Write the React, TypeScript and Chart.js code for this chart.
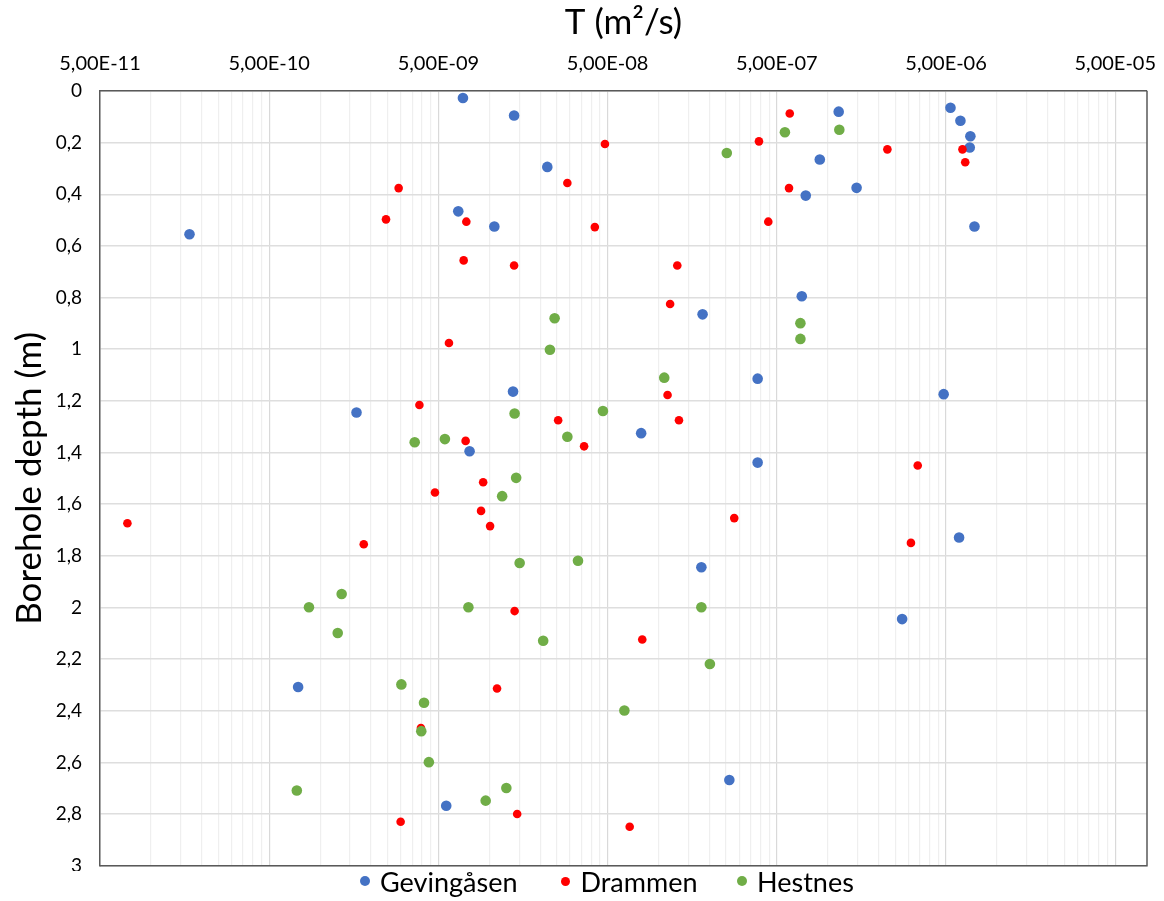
import React, { useEffect, useRef } from 'react';
import { Chart, registerables } from 'chart.js';

Chart.register(...registerables);

// ---- Data ----
const seriesNames = ['Gevingåsen', 'Drammen', 'Hestnes'];
const seriesColors = ['#4472C4', '#FF0000', '#70AD47'];

const gevingasenT = [
  6.98e-9, 1.40e-8, 1.16e-6, 5.31e-6, 6.08e-6, 6.96e-6, 6.90e-6, 8.97e-7, 2.20e-8, 1.48e-6,
  7.41e-7, 6.55e-9, 1.07e-8, 1.69e-10, 7.36e-6, 7.02e-7, 1.82e-7, 3.85e-7, 1.38e-8, 4.84e-6,
  1.64e-9, 7.89e-8, 7.64e-9, 3.85e-7, 5.97e-6, 1.79e-7, 2.75e-6, 7.41e-10, 2.62e-7, 5.56e-9,
];
const gevingasenDepth = [
  0.027, 0.095, 0.080, 0.065, 0.115, 0.175, 0.219, 0.265, 0.294, 0.375,
  0.405, 0.466, 0.525, 0.555, 0.525, 0.795, 0.865, 1.114, 1.164, 1.174,
  1.245, 1.325, 1.395, 1.439, 1.729, 1.844, 2.045, 2.308, 2.668, 2.768,
];

const drammenT = [
  5.96e-7, 4.82e-8, 3.92e-7, 2.25e-6, 6.25e-6, 6.49e-6, 2.89e-8, 2.91e-9, 5.90e-7, 2.45e-9,
  7.31e-9, 4.20e-8, 4.45e-7, 7.05e-9, 1.40e-8, 1.29e-7, 1.17e-7, 5.77e-9, 1.13e-7, 3.86e-9,
  2.55e-8, 1.32e-7, 7.24e-9, 3.63e-8, 3.40e-6, 9.19e-9, 4.77e-9, 8.93e-9, 1.01e-8, 7.26e-11,
  2.80e-7, 1.81e-9, 3.10e-6, 1.41e-8, 8.01e-8, 1.11e-8, 3.94e-9, 1.46e-8, 2.99e-9, 6.75e-8,
];
const drammenDepth = [
  0.087, 0.205, 0.195, 0.226, 0.226, 0.276, 0.356, 0.376, 0.376, 0.497,
  0.506, 0.527, 0.506, 0.656, 0.676, 0.676, 0.825, 0.976, 1.177, 1.216,
  1.275, 1.275, 1.355, 1.376, 1.450, 1.515, 1.555, 1.626, 1.685, 1.674,
  1.654, 1.755, 1.750, 2.014, 2.124, 2.314, 2.467, 2.800, 2.830, 2.849,
];

const hestnesT = [
  5.58e-7, 1.17e-6, 2.53e-7, 2.43e-8, 6.89e-7, 6.89e-7, 2.28e-8, 1.08e-7, 1.41e-8, 4.69e-8,
  3.62e-9, 5.46e-9, 2.89e-8, 1.44e-8, 1.19e-8, 1.51e-8, 3.34e-8, 1.34e-9, 8.59e-10, 7.52e-9,
  1.79e-7, 1.27e-9, 2.08e-8, 2.01e-7, 3.02e-9, 4.11e-9, 6.28e-8, 3.96e-9, 4.39e-9, 7.28e-10,
  1.26e-8, 9.51e-9,
];
const hestnesDepth = [
  0.160, 0.150, 0.240, 0.880, 0.899, 0.960, 1.002, 1.110, 1.249, 1.239,
  1.360, 1.348, 1.339, 1.498, 1.569, 1.828, 1.819, 1.948, 1.999, 1.999,
  1.999, 2.099, 2.129, 2.219, 2.298, 2.369, 2.399, 2.479, 2.599, 2.709,
  2.699, 2.748,
];

const xMajorTicks = [5e-11, 5e-10, 5e-9, 5e-8, 5e-7, 5e-6, 5e-5];
const xTickLabels = ['5,00E-11', '5,00E-10', '5,00E-09', '5,00E-08', '5,00E-07', '5,00E-06', '5,00E-05'];
const xMinorMultipliers = [2, 3, 4, 5, 6, 7, 8, 9];
const xMin = 5e-11;
const xMax = 7.7e-5;
const yMin = 0;
const yMax = 3;
const yStep = 0.2;

const xTitle = 'T (m²/s)';
const yTitle = 'Borehole depth (m)';

const FONT = 'Lato, "Noto Sans", sans-serif';

function toPoints(xs: number[], ys: number[]) {
  return xs.map((x, i) => ({ x, y: ys[i] }));
}

function buildXTicks() {
  const ticks: any[] = [];
  xMajorTicks.forEach((v, i) => {
    ticks.push({ value: v, major: true, lbl: xTickLabels[i] });
    if (i < xMajorTicks.length - 1) {
      xMinorMultipliers.forEach((k) => {
        ticks.push({ value: v * k, major: false, lbl: '' });
      });
    }
  });
  return ticks;
}

const plotBorder = {
  id: 'plotBorder',
  beforeDatasetsDraw(chart: any) {
    const { ctx, chartArea } = chart;
    const { left, top, right, bottom } = chartArea;
    ctx.save();
    ctx.strokeStyle = '#595959';
    ctx.lineWidth = 1.5;
    ctx.beginPath();
    ctx.moveTo(right, top);
    ctx.lineTo(right, bottom);
    ctx.lineTo(left, bottom);
    ctx.stroke();
    ctx.restore();
  },
};

export default function App() {
  const canvasRef = useRef<HTMLCanvasElement | null>(null);

  useEffect(() => {
    if (!canvasRef.current) return;
    const allT = [gevingasenT, drammenT, hestnesT];
    const allD = [gevingasenDepth, drammenDepth, hestnesDepth];
    const radii = [5.3, 4.3, 5.3];
    const orders = [2, 1, 0];

    const chart = new Chart(canvasRef.current, {
      type: 'scatter',
      data: {
        datasets: seriesNames.map((name, i) => ({
          label: name,
          data: toPoints(allT[i], allD[i]),
          backgroundColor: seriesColors[i],
          borderColor: seriesColors[i],
          pointRadius: radii[i],
          pointBorderWidth: 0,
          pointHoverRadius: radii[i],
          order: orders[i],
        })),
      },
      options: {
        responsive: false,
        animation: false,
        events: [],
        layout: { padding: { left: 0, right: 17, top: 0, bottom: 3 } },
        plugins: {
          legend: { display: false },
          tooltip: { enabled: false },
        },
        scales: {
          x: {
            type: 'logarithmic',
            position: 'top',
            min: xMin,
            max: xMax,
            afterBuildTicks: (scale: any) => {
              scale.ticks = buildXTicks();
            },
            afterFit: (scale: any) => {
              scale.height = 91;
              scale.paddingLeft = 0;
              scale.paddingRight = 0;
            },
            ticks: {
              autoSkip: false,
              maxRotation: 0,
              minRotation: 0,
              padding: 15,
              color: '#000',
              font: { family: FONT, size: 20 },
              callback: (_v: any, index: number, ticks: any[]) => (ticks[index] && ticks[index].lbl) || '',
            },
            grid: {
              drawTicks: false,
              lineWidth: 1.2,
              color: (ctx: any) => (ctx.tick && ctx.tick.major ? '#d9d9d9' : '#efefef'),
            },
            border: { display: true, color: '#595959', width: 1.5 },
            title: {
              display: true,
              text: xTitle,
              color: '#000',
              font: { family: FONT, size: 35 },
              padding: { top: 2, bottom: 0 },
            },
          },
          y: {
            type: 'linear',
            reverse: true,
            min: yMin,
            max: yMax,
            afterFit: (scale: any) => {
              scale.width = 100;
              scale.paddingTop = 0;
              scale.paddingBottom = 0;
            },
            ticks: {
              stepSize: yStep,
              padding: 18,
              color: '#000',
              font: { family: FONT, size: 19 },
              callback: (v: any) => String(Math.round(Number(v) * 10) / 10).replace('.', ','),
            },
            grid: {
              drawTicks: false,
              lineWidth: 1.5,
              color: '#dedede',
            },
            border: { display: true, color: '#595959', width: 1.5 },
            title: {
              display: true,
              text: yTitle,
              color: '#000',
              font: { family: FONT, size: 35 },
              padding: { top: 9, bottom: 0 },
            },
          },
        },
      },
      plugins: [plotBorder],
    } as any);

    return () => {
      chart.destroy();
    };
  }, []);

  const legendWidths = [200, 177, 140];
  const dotSizes = [10, 9, 10];

  return (
    <div
      style={{
        position: 'fixed',
        left: 0,
        top: 0,
        width: 1164,
        height: 901,
        background: '#fff',
        overflow: 'hidden',
      }}
    >
      <canvas
        ref={canvasRef}
        width={1164}
        height={871}
        style={{ position: 'absolute', left: 0, top: 0, width: 1164, height: 871, display: 'block' }}
      />
      <div
        style={{
          position: 'absolute',
          left: 360,
          top: 864,
          height: 34,
          display: 'flex',
          alignItems: 'center',
          fontFamily: FONT,
          fontSize: 27,
          color: '#000',
          whiteSpace: 'nowrap',
        }}
      >
        {seriesNames.map((name, i) => (
          <div key={name} style={{ display: 'flex', alignItems: 'center', width: legendWidths[i] }}>
            <span
              style={{
                display: 'inline-block',
                width: dotSizes[i],
                height: dotSizes[i],
                borderRadius: '50%',
                background: seriesColors[i],
                marginRight: 20 - dotSizes[i],
                marginLeft: (10 - dotSizes[i]) / 2,
              }}
            />
            <span>{name}</span>
          </div>
        ))}
      </div>
    </div>
  );
}
